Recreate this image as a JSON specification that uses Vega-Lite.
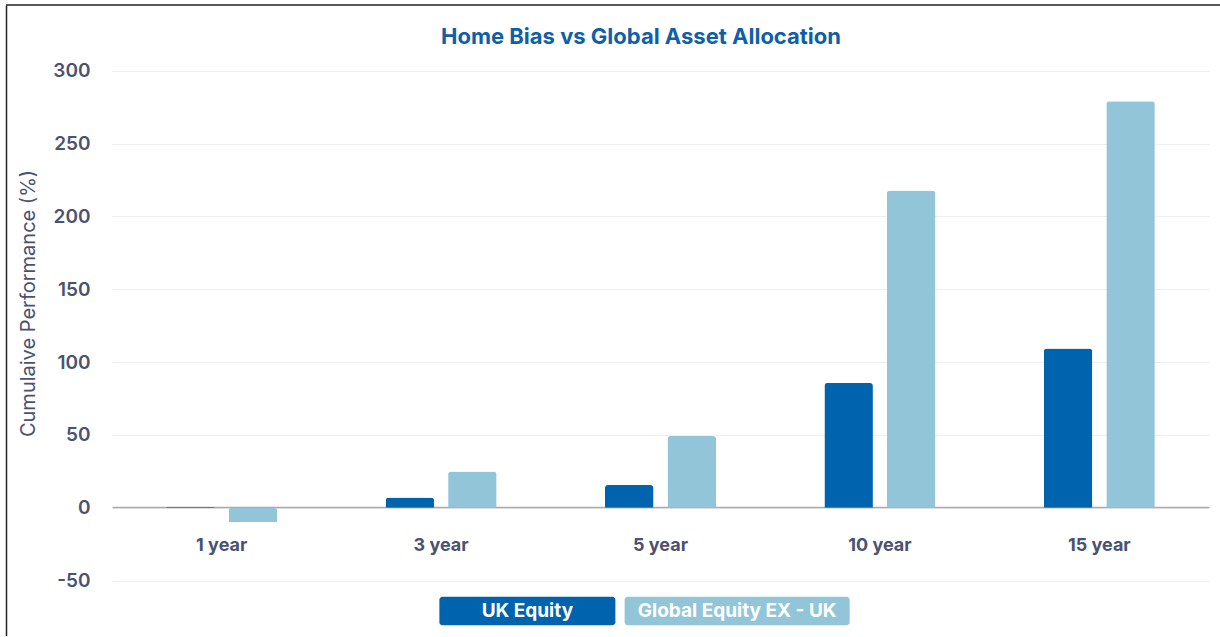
{
  "$schema": "https://vega.github.io/schema/vega-lite/v6.json",
  "width": 1214,
  "height": 631,
  "padding": {"left": 5, "top": 4, "right": 0, "bottom": 0},
  "background": "white",
  "config": {"view": {"stroke": null}, "font": "Inter"},
  "title": {
    "text": "Home Bias vs Global Asset Allocation",
    "anchor": "middle",
    "frame": "group",
    "offset": -55,
    "baseline": "middle",
    "dx": 28,
    "fontSize": 22,
    "font": "Inter",
    "fontWeight": 700,
    "color": "#0f5fa8"
  },
  "datasets": {
    "perf": [
      {"period": "1 year", "series": "UK Equity", "value": 0.5},
      {"period": "1 year", "series": "Global Equity EX - UK", "value": -9.8},
      {"period": "3 year", "series": "UK Equity", "value": 7.0},
      {"period": "3 year", "series": "Global Equity EX - UK", "value": 24.9},
      {"period": "5 year", "series": "UK Equity", "value": 15.6},
      {"period": "5 year", "series": "Global Equity EX - UK", "value": 49.2},
      {"period": "10 year", "series": "UK Equity", "value": 85.7},
      {"period": "10 year", "series": "Global Equity EX - UK", "value": 217.8},
      {"period": "15 year", "series": "UK Equity", "value": 109.4},
      {"period": "15 year", "series": "Global Equity EX - UK", "value": 279.0}
    ],
    "legendItems": [
      {"series": "UK Equity"},
      {"series": "Global Equity EX - UK"}
    ]
  },
  "layer": [
    {
      "data": {"name": "perf"},
      "mark": {"type": "bar", "cornerRadiusEnd": 3},
      "encoding": {
        "x": {
          "field": "period",
          "type": "nominal",
          "sort": null,
          "scale": {
            "domain": ["1 year", "3 year", "5 year", "10 year", "15 year"],
            "range": [106, 1203],
            "paddingInner": 0.494,
            "paddingOuter": 0.247
          },
          "axis": {
            "orient": "bottom",
            "offset": -128.9,
            "domain": true,
            "domainColor": "#aaaaaa",
            "domainWidth": 1.5,
            "ticks": false,
            "tickSize": 0,
            "grid": false,
            "labelPadding": 38,
            "labelBaseline": "middle",
            "labelFont": "Inter",
            "labelFontSize": 18,
            "labelFontWeight": 700,
            "labelColor": "#4b5270",
            "labelAngle": 0,
            "title": null
          }
        },
        "xOffset": {
          "field": "series",
          "type": "nominal",
          "scale": {
            "domain": ["UK Equity", "Global Equity EX - UK"],
            "paddingInner": 0.224,
            "paddingOuter": 0
          }
        },
        "y": {
          "field": "value",
          "type": "quantitative",
          "scale": {"domain": [-88.0, 345.1], "nice": false, "zero": false},
          "axis": {
            "values": [-50, 0, 50, 100, 150, 200, 250, 300],
            "labelExpr": "'' + datum.value",
            "grid": true,
            "gridColor": "#efefef",
            "gridWidth": 1,
            "domain": true,
            "domainColor": "#222222",
            "domainWidth": 1.5,
            "ticks": false,
            "tickSize": 0,
            "labelPadding": -84,
            "labelFont": "Inter",
            "labelFontSize": 19,
            "labelFontWeight": 600,
            "labelColor": "#4b5270",
            "title": "Cumulaive Performance (%)",
            "titleFont": "Inter",
            "titleFontSize": 20,
            "titleFontWeight": 400,
            "titleColor": "#4b5270",
            "titleX": 22,
            "titleY": 298,
            "titleAngle": -90,
            "titleAlign": "center",
            "titleBaseline": "middle"
          }
        },
        "color": {
          "field": "series",
          "type": "nominal",
          "scale": {
            "domain": ["UK Equity", "Global Equity EX - UK"],
            "range": ["#0063ad", "#92c5d8"]
          },
          "legend": null
        }
      }
    },
    {
      "data": {"values": [{}]},
      "mark": {"type": "rule", "color": "#222222", "strokeWidth": 1.5},
      "encoding": {"y": {"datum": 345.1}}
    },
    {
      "data": {"name": "legendItems"},
      "layer": [
        {
          "transform": [{"filter": "datum.series === 'UK Equity'"}],
          "mark": {"type": "bar", "size": 176, "cornerRadius": 3},
          "encoding": {
            "x": {
              "field": "series",
              "type": "nominal",
              "scale": {
                "domain": ["UK Equity", "Global Equity EX - UK"],
                "range": [416.5, 836],
                "paddingInner": 0,
                "paddingOuter": 0
              },
              "axis": null
            },
            "y": {"datum": -61.0},
            "y2": {"datum": -80.6},
            "color": {"field": "series", "type": "nominal", "legend": null}
          }
        },
        {
          "transform": [{"filter": "datum.series === 'Global Equity EX - UK'"}],
          "mark": {"type": "bar", "size": 225, "cornerRadius": 3},
          "encoding": {
            "x": {
              "field": "series",
              "type": "nominal",
              "scale": {
                "domain": ["UK Equity", "Global Equity EX - UK"],
                "range": [416.5, 836],
                "paddingInner": 0,
                "paddingOuter": 0
              },
              "axis": null
            },
            "y": {"datum": -61.0},
            "y2": {"datum": -80.6},
            "color": {"field": "series", "type": "nominal", "legend": null}
          }
        },
        {
          "mark": {
            "type": "text",
            "color": "white",
            "font": "Inter",
            "fontSize": 19,
            "fontWeight": 700,
            "align": "center",
            "baseline": "middle"
          },
          "encoding": {
            "x": {
              "field": "series",
              "type": "nominal",
              "scale": {
                "domain": ["UK Equity", "Global Equity EX - UK"],
                "range": [416.5, 836],
                "paddingInner": 0,
                "paddingOuter": 0
              },
              "axis": null
            },
            "y": {"datum": -70.8},
            "text": {"field": "series"}
          }
        }
      ]
    }
  ],
  "resolve": {"scale": {"x": "independent"}, "axis": {"x": "independent"}}
}
